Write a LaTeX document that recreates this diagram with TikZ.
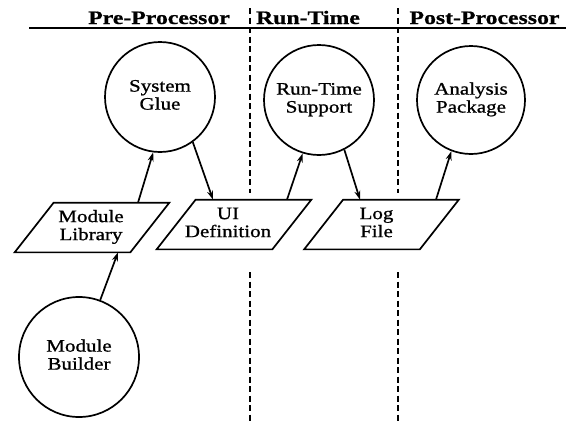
\documentclass[tikz,border=0pt]{standalone}
\usepackage{fontspec}
\setmainfont{Liberation Serif}
\newfontfamily\nodefont[FakeStretch=1.2,FakeBold=1]{Liberation Serif}
\newfontfamily\headfont[FakeStretch=1.25,FakeBold=0.8]{Liberation Serif}
\usetikzlibrary{arrows.meta}
\newcommand\liftup[1]{\raisebox{4pt}{\begin{tabular}{@{}c@{}}#1\end{tabular}}}
\newcommand\shifttext[2]{\kern-#1\begin{tabular}{@{}c@{}}#2\end{tabular}\kern#1}
\begin{document}
\begin{tikzpicture}[x=1pt,y=-1pt,line width=1.7pt,
  proc/.style={circle,draw,minimum size=#1,inner sep=0pt,font=\nodefont\fontsize{17.5}{18}\selectfont},
  store/.style={rectangle,draw=none,minimum width=153pt,minimum height=48pt,inner sep=0pt,font=\nodefont\fontsize{17.5}{18}\selectfont},
  arr/.style={-{Stealth[length=9pt,width=6pt]},line width=1.7pt},
  sepline/.style={dash pattern=on 6pt off 3.5pt,line width=1.8pt},
  head/.style={anchor=base,inner sep=0pt,font=\headfont\bfseries\fontsize{19}{20}\selectfont}]
\useasboundingbox (0,0) rectangle (574,421);

% header
\node[head] (h1) at (159,24) {Pre-Processor};
\node[head] (h2) at (308,24) {Run-Time};
\node[head] (h3) at (484.5,24) {Post-Processor};
\coordinate (ulA) at (29,27.5);
\coordinate (ulB) at (566,27.5);
\draw[line width=2pt] (ulA) -- (ulB);

% processes
\node[proc=110pt] (sg) at (160,97) {\liftup{System\\Glue}};
\node[proc=110pt] (rts) at (319,100) {\liftup{Run-Time\\Support}};
\node[proc=108pt] (ap) at (471,100) {\liftup{Analysis\\Package}};
\node[proc=120pt] (mb) at (79,357) {\liftup{Module\\Builder}};

% stores
\node[store] (ml) at (92,227.5) {\shifttext{1pt}{Module\\Library}};
\node[store] (ui) at (234,224.5) {\shifttext{6pt}{UI\\Definition}};
\node[store] (lf) at (381.5,224.5) {\shifttext{5pt}{Log\\File}};
\foreach \n in {ml,ui,lf}
  \draw ([xshift=39pt]\n.north west) -- (\n.north east) -- ([xshift=-39pt]\n.south east) -- (\n.south west) -- cycle;

% separators (interrupted by the stores)
\coordinate (s1t) at (250,8);
\coordinate (s1m) at (250,193);
\coordinate (s1n) at (250,272);
\coordinate (s1b) at (250,421);
\coordinate (s2t) at (398,8);
\coordinate (s2m) at (398,193);
\coordinate (s2n) at (398,272);
\coordinate (s2b) at (398,421);
\draw[sepline] (s1t) -- (s1m);
\draw[sepline] (s1n) -- (s1b);
\draw[sepline] (s2t) -- (s2m);
\draw[sepline] (s2n) -- (s2b);

% connectors
\draw[arr] (mb) -- ([xshift=26pt]ml.south);
\draw[arr] ([xshift=46pt]ml.north) -- (sg.263);
\draw[arr] (sg.306) -- ([xshift=-21pt]ui.north);
\draw[arr] ([xshift=53pt]ui.north) -- (rts.253);
\draw[arr] (rts.297) -- ([xshift=-21.5pt]lf.north);
\draw[arr] ([xshift=54.5pt]lf.north) -- (ap.249);
\end{tikzpicture}
\end{document}
